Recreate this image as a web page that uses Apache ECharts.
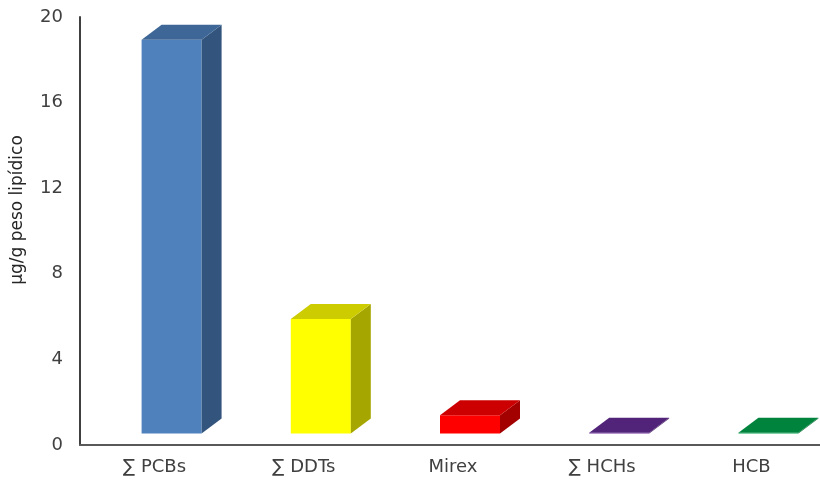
<!DOCTYPE html>
<html>
<head>
<meta charset="utf-8">
<script src="https://cdn.jsdelivr.net/npm/echarts@6/dist/echarts.min.js"></script>
<style>html,body{margin:0;padding:0;background:#fff}#c{width:820px;height:487px}</style>
</head>
<body>
<div id="c"></div>
<script>
const categories = ['∑ PCBs', '∑ DDTs', 'Mirex', '∑ HCHs', 'HCB'];
const values = [18.4, 5.35, 0.85, 0.03, 0.03];
const yTicks = [0, 4, 8, 12, 16, 20];
const yAxisTitle = 'µg/g peso lipídico';
const frontColors = ['#4F81BD', '#FFFF00', '#FF0000', '#6A2E9A', '#00A050'];
const topColors = ['#3E6797', '#CCCC00', '#CC0000', '#512479', '#00843D'];
const sideColors = ['#33557D', '#A6A600', '#A30000', '#40195F', '#006A30'];

const chart = echarts.init(document.getElementById('c'), null, {renderer: 'canvas'});
const lift = 11.5, w = 60, dx = 20, dy = 15, off = -13;
const font = '"DejaVu Sans", "Liberation Sans", Arial';

chart.setOption({
  animation: false,
  grid: {left: 80, right: -6, top: 17, bottom: 42, outerBoundsMode: 'none', containLabel: false},
  xAxis: {
    type: 'category', data: categories,
    axisLine: {show: true, lineStyle: {color: '#595959', width: 2}},
    axisTick: {show: false},
    axisLabel: {color: '#404040', fontSize: 18, fontFamily: font, margin: 13}
  },
  yAxis: {
    type: 'value', min: yTicks[0], max: yTicks[yTicks.length - 1], interval: 4,
    axisLine: {show: true, lineStyle: {color: '#404040', width: 2}},
    axisTick: {show: false},
    splitLine: {show: false},
    axisLabel: {color: '#404040', fontSize: 18, fontFamily: font, margin: 17}
  },
  graphic: [{
    type: 'text', x: 18, y: 210, rotation: Math.PI / 2,
    style: {text: yAxisTitle, font: '17px "DejaVu Sans", Arial', fill: '#262626', align: 'center', verticalAlign: 'middle'}
  }],
  series: [{
    type: 'custom',
    data: values.map((v, i) => [i, v]),
    renderItem: function (params, api) {
      const i = api.value(0);
      const c = api.coord([i, api.value(1)]);
      const b = api.coord([i, 0]);
      const x0 = c[0] + off, x1 = x0 + w;
      const yb = b[1] - lift, yt = c[1] - lift;
      return {
        type: 'group',
        children: [
          {type: 'polygon', shape: {points: [[x0, yb], [x1, yb], [x1, yt], [x0, yt]]}, style: {fill: frontColors[i]}},
          {type: 'polygon', shape: {points: [[x1, yb], [x1 + dx, yb - dy], [x1 + dx, yt - dy], [x1, yt]]}, style: {fill: sideColors[i]}},
          {type: 'polygon', shape: {points: [[x0, yt], [x1, yt], [x1 + dx, yt - dy], [x0 + dx, yt - dy]]}, style: {fill: topColors[i]}}
        ]
      };
    }
  }]
});
</script>
</body>
</html>
